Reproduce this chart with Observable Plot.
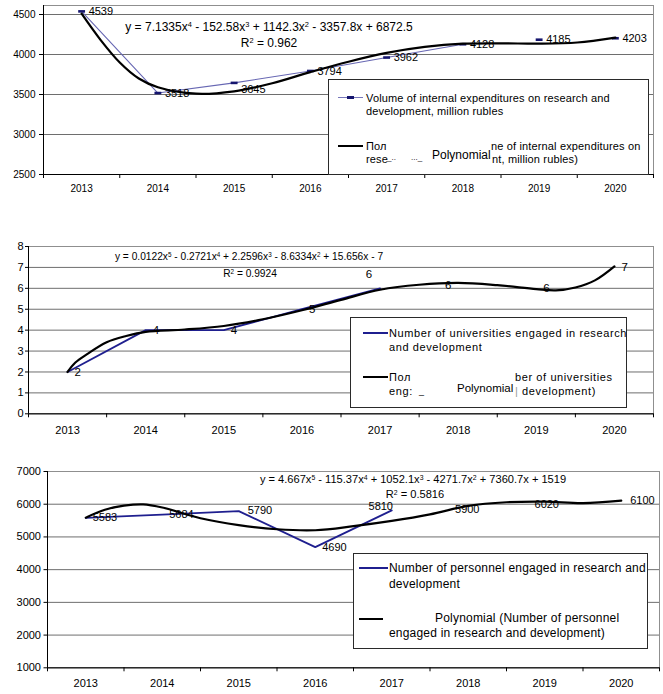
<!DOCTYPE html>
<html><head><meta charset="utf-8">
<script src="https://cdn.jsdelivr.net/npm/d3@7"></script>
<script src="https://cdn.jsdelivr.net/npm/@observablehq/plot@0.6"></script>
<style>
body{margin:0;background:#fff;font-family:"Liberation Sans",Arial,sans-serif;}
#root{position:relative;width:663px;height:694px;overflow:hidden;background:#fff;}
.panel{position:absolute;left:0;}
.ov{position:absolute;white-space:nowrap;color:#000;line-height:1;font-family:"Liberation Sans",Arial,sans-serif;}
.ov sup{font-size:0.62em;vertical-align:0.5em;line-height:0;}
.legend{position:absolute;border:1px solid #2a2a2a;background:#fff;box-sizing:border-box;}
.sample{position:absolute;}
</style></head><body><div id="root"></div>
<script>
// ---------- data ----------
const years = [2013, 2014, 2015, 2016, 2017, 2018, 2019, 2020];
const expenditures = [4539, 3518, 3645, 3794, 3962, 4128, 4185, 4203];
const universities = [2, 4, 4, 5, 6, 6, 6, 7];
const personnel = [5583, 5684, 5790, 4690, 5810, 5900, 6020, 6100];

// trend curves
const expTrendYears = [2013, 2013.25, 2013.5, 2013.75, 2014, 2014.5, 2015, 2015.5, 2016, 2016.5, 2017, 2017.5, 2018, 2018.5, 2019, 2019.5, 2020];
const expTrendValues = [4510, 4180, 3900, 3700, 3590, 3510, 3540, 3640, 3780, 3910, 4020, 4095, 4135, 4140, 4135, 4150, 4212];
const uniTrendYears = [2013, 2013.1, 2013.25, 2013.5, 2013.75, 2014, 2014.5, 2015, 2015.5, 2016, 2016.5, 2017, 2017.5, 2018, 2018.5, 2019, 2019.25, 2019.5, 2019.75, 2020];
const uniTrendValues = [2.0, 2.45, 2.85, 3.42, 3.72, 3.92, 4.03, 4.2, 4.52, 4.95, 5.45, 5.93, 6.17, 6.26, 6.15, 5.96, 5.9, 6.04, 6.38, 7.05];
const perTrendYears = [2013, 2013.25, 2013.5, 2013.75, 2014, 2014.5, 2015, 2015.5, 2016, 2016.5, 2017, 2017.5, 2018, 2018.5, 2019, 2019.5, 2020];
const perTrendValues = [5590, 5830, 5955, 5995, 5900, 5570, 5360, 5235, 5205, 5330, 5490, 5690, 5950, 6060, 6080, 6035, 6110];

// axis tick labels
const expTicks = [2500, 3000, 3500, 4000, 4500];
const uniTicks = [0, 1, 2, 3, 4, 5, 6, 7, 8];
const perTicks = [1000, 2000, 3000, 4000, 5000, 6000, 7000];

// ---------- helpers ----------
const root = document.getElementById("root");
const FONT = "Liberation Sans, Arial, sans-serif";

function labelMarks(series, defaults, overrides) {
  const txt = d => String(d.v);
  const marks = [Plot.text(series.filter(d => !(d.year in overrides)), {x: "year", y: "v", text: txt, ...defaults})];
  for (const [yr, o] of Object.entries(overrides)) {
    marks.push(Plot.text(series.filter(d => d.year === +yr), {x: "year", y: "v", text: txt, ...defaults, ...o}));
  }
  return marks;
}

function makePanel(cfg) {
  const series = years.map((year, i) => ({year, v: cfg.values[i]}));
  const trend = cfg.trendYears.map((year, i) => ({year, v: cfg.trendValues[i]}));
  const bounds = d3.range(years.length + 1).map(i => years[0] - 0.5 + i);
  const shown = series.slice(0, cfg.lineCount);
  const marks = [
    Plot.gridY(cfg.yTicks, {stroke: "#6e6e6e", strokeOpacity: 1, strokeWidth: 1}),
    Plot.frame({stroke: "#8f8f8f"}),
    Plot.ruleY([cfg.yDomain[0]], {stroke: "#000"}),
    Plot.ruleX([bounds[0]], {stroke: "#000"}),
    Plot.axisY(cfg.yTicks, {tickSize: cfg.yTickSize, tickPadding: cfg.yTickPadding, fontSize: cfg.yFont, stroke: "#000", tickFormat: d => String(d), ...(cfg.yStyle || {})}),
    Plot.axisX(bounds, {tickSize: 4, tickFormat: () => "", stroke: "#000"}),
    Plot.axisX(years, {tickSize: 0, tickPadding: cfg.xTickPadding, fontSize: cfg.xFont, tickFormat: d => String(d)}),
    Plot.line(shown, {x: "year", y: "v", stroke: cfg.blue, strokeWidth: cfg.blueWidth}),
  ];
  if (cfg.markers) {
    marks.push(Plot.link(series, {x1: d => d.year - 0.045, x2: d => d.year + 0.045, y1: "v", y2: "v", stroke: "#15156e", strokeWidth: 2.6}));
  }
  marks.push(Plot.line(trend, {x: "year", y: "v", stroke: "#000", strokeWidth: 2.2, curve: "catmull-rom"}));
  marks.push(...labelMarks(series, {fontSize: cfg.labelFont, fill: "#000", textAnchor: "start", dx: 7}, cfg.labelOverrides));
  const svg = Plot.plot({
    width: 663, height: cfg.height,
    marginLeft: cfg.ml, marginRight: cfg.mr, marginTop: cfg.mt, marginBottom: cfg.mb,
    x: {domain: [bounds[0], bounds[bounds.length - 1]], label: null},
    y: {domain: cfg.yDomain, label: null},
    style: {fontFamily: FONT, fontSize: "10px", color: "#000", background: "transparent"},
    marks
  });
  svg.classList.add("panel");
  svg.style.top = cfg.top + "px";
  root.appendChild(svg);
}

function place(html, x, y, size, anchor = "start", extra = "") {
  const el = document.createElement("div");
  el.className = "ov";
  el.innerHTML = html;
  el.style.left = x + "px";
  el.style.top = y + "px";
  el.style.fontSize = size + "px";
  el.style.transform = anchor === "middle" ? "translate(-50%,-50%)" : "translate(0,-50%)";
  if (extra) el.style.cssText += extra;
  root.appendChild(el);
  return el;
}
function box(x, y, w, h) {
  const el = document.createElement("div");
  el.className = "legend";
  Object.assign(el.style, {left: x + "px", top: y + "px", width: w + "px", height: h + "px"});
  root.appendChild(el);
}
function sample(x1, x2, y, color, w) {
  const el = document.createElement("div");
  el.className = "sample";
  Object.assign(el.style, {left: x1 + "px", top: (y - w / 2) + "px", width: (x2 - x1) + "px", height: w + "px", background: color});
  root.appendChild(el);
}

const L1 = "letter-spacing:0.15px;";
const L2 = "letter-spacing:0.6px;";
const L3 = "letter-spacing:0.2px;";

// ---------- panel 1 ----------
makePanel({
  top: 0, height: 215, ml: 43, mr: 10, mt: 5, mb: 41,
  values: expenditures, trendYears: expTrendYears, trendValues: expTrendValues,
  yDomain: [2500, 4612.5], yTicks: expTicks, yTickSize: 4, yTickPadding: 4, yFont: 10,
  xTickPadding: 10, xFont: 10, labelFont: 11,
  blue: "#6767b3", blueWidth: 1.1, lineCount: 6, markers: true,
  labelOverrides: {2015: {dy: 7}}
});
place("y = 7.1335x<sup>4</sup> - 152.58x<sup>3</sup> + 1142.3x<sup>2</sup> - 3357.8x + 6872.5", 269, 27, 12, "middle");
place("R<sup>2</sup> = 0.962", 269, 43, 12, "middle");
box(328, 79, 321, 96);
sample(338, 363, 97.7, "#7777bb", 1.3);
sample(347, 354, 97.7, "#15156e", 2.6);
place("Volume of internal expenditures on research and", 366, 97.5, 11, "start", L1);
place("development, million rubles", 366, 110.5, 11, "start", L1);
sample(338, 363, 146, "#000", 2);
place("Пол", 366, 146, 11, "start", L1);
place("ne of internal expenditures on", 491, 146, 11, "start", L1);
place("rese", 366, 158.5, 11, "start", L1);
place("_..", 387, 157.5, 8);
place("..._", 411, 157.5, 8);
place("Polynomial", 432, 155, 12);
place("nt, million rubles)", 492, 158.5, 11, "start", L1);

// ---------- panel 2 ----------
makePanel({
  top: 215, height: 235, ml: 28, mr: 10, mt: 31, mb: 36.7,
  values: universities, trendYears: uniTrendYears, trendValues: uniTrendValues,
  yDomain: [0, 8], yTicks: uniTicks, yTickSize: 3, yTickPadding: 2, yFont: 11,
  xTickPadding: 12.5, xFont: 11, labelFont: 11.5,
  blue: "#1f1f8f", blueWidth: 1.8, lineCount: 5, markers: false,
  labelOverrides: {2017: {textAnchor: "middle", dx: -11, dy: -14}, 2018: {textAnchor: "middle", dx: -10, dy: -3}}
});
place("y = 0.0122x<sup>5</sup> - 0.2721x<sup>4</sup> + 2.2596x<sup>3</sup> - 8.6334x<sup>2</sup> + 15.656x - 7", 249, 257, 10.2, "middle");
place("R<sup>2</sup> = 0.9924", 250, 273.5, 10.2, "middle");
box(350, 317, 277, 91);
sample(363, 388, 333, "#1f1f8f", 1.8);
place("Number of universities engaged in research", 389, 333, 11, "start", L2);
place("and development", 389, 347, 11, "start", L2);
sample(363, 388, 377, "#000", 2);
place("Пол", 389, 377, 11, "start", L2);
place("ber of universities", 515, 377, 11, "start", L2);
place("eng:", 389, 391, 11, "start", L2);
place("_", 419, 391, 9);
place("Polynomial", 457, 389, 11.5);
place("<span style='color:#999'>|</span> development)", 515, 391, 11, "start", L2);

// ---------- panel 3 ----------
makePanel({
  top: 450, height: 244, ml: 47, mr: 4, mt: 21, mb: 26.7,
  values: personnel, trendYears: perTrendYears, trendValues: perTrendValues,
  yDomain: [1000, 7000], yTicks: perTicks, yTickSize: 3.5, yTickPadding: 3, yFont: 11,
  yStyle: {style: "letter-spacing:0.9px"},
  xTickPadding: 11.5, xFont: 11, labelFont: 11,
  blue: "#1f1f8f", blueWidth: 1.8, lineCount: 5, markers: false,
  labelOverrides: {
    2015: {dx: 9, dy: -1},
    2017: {textAnchor: "middle", dx: -11, dy: -3.5},
    2018: {textAnchor: "middle", dx: -1, dy: 2},
    2019: {textAnchor: "middle", dx: 2, dy: 1},
    2020: {dx: 9}
  }
});
place("y = 4.667x<sup>5</sup> - 115.37x<sup>4</sup> + 1052.1x<sup>3</sup> - 4271.7x<sup>2</sup> + 7360.7x + 1519", 413, 479.5, 11.1, "middle");
place("R<sup>2</sup> = 0.5816", 415, 494.5, 11.1, "middle");
box(353, 553, 295, 96);
sample(359, 388, 568, "#1f1f8f", 1.8);
place("Number of personnel engaged in research and", 389, 568, 12, "start", L3);
place("development", 389, 584, 12, "start", L3);
sample(359, 383, 619, "#000", 2);
place("Polynomial (Number of personnel", 435, 617.5, 12, "start", L3);
place("engaged in research and development)", 389, 632.5, 12, "start", L3);
</script>
</body></html>
